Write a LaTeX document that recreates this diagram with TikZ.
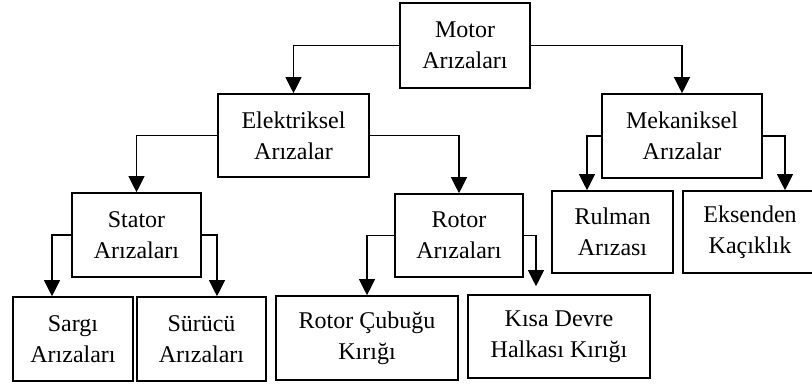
\documentclass[tikz,border=0pt]{standalone}
\usepackage{fontspec}
\setmainfont{Liberation Serif}
\usepackage{tikz}
\usetikzlibrary{arrows.meta, positioning, calc}

\begin{document}
\begin{tikzpicture}[x=1pt, y=1pt,
    box/.style={rectangle, draw, line width=1.6pt, align=center, inner sep=0pt, font=\fontsize{24}{31}\selectfont},
    arr/.style={-{Triangle[width=16pt, length=16pt]}, line width=1.1pt}]
    \useasboundingbox (0,0) rectangle (812,-386);
    % Nodes
    \node (motor) [box, minimum width=130pt, minimum height=85pt] at (465,-45.5) {Motor\\Arızaları};

    \node (elek) [box, minimum width=151pt, minimum height=83pt] at (293.5,-135.5) {Elektriksel\\Arızalar};
    \node (mek) [box, minimum width=160pt, minimum height=84pt] at (682,-136) {Mekaniksel\\Arızalar};

    \node (stator) [box, minimum width=129pt, minimum height=84pt] at (136.5,-235) {Stator\\Arızaları};
    \node (rotor) [box, minimum width=128pt, minimum height=83pt] at (459,-235.5) {Rotor\\Arızaları};
    \node (rulman) [box, minimum width=121pt, minimum height=82pt] at (612.5,-232) {Rulman\\Arızası};
    \node (eksen) [box, minimum width=134pt, minimum height=82pt] at (750,-232) {Eksenden\\Kaçıklık};

    \node (sargi) [box, minimum width=120pt, minimum height=84pt] at (73,-339) {Sargı\\Arızaları};
    \node (surucu) [box, minimum width=129pt, minimum height=84pt] at (201.5,-339) {Sürücü\\Arızaları};
    \node (cubuk) [box, minimum width=182pt, minimum height=84pt] at (367,-338) {Rotor Çubuğu\\Kırığı};
    \node (kisa) [box, minimum width=182pt, minimum height=83pt] at (559,-336.5) {Kısa Devre\\Halkası Kırığı};

    % Edges
    \draw[arr] (motor.west) -| (elek.north);
    \draw[arr] (motor.east) -| (mek.north);

    \draw[arr] (elek.west) -| (stator.north);
    \draw[arr] (elek.east) -| (rotor.north);

    \draw[arr] (stator.west) -| ([xshift=-21pt]sargi.north);
    \draw[arr] (stator.east) -| ([xshift=15.5pt]surucu.north);

    \draw[arr] (rotor.west) -| (cubuk.north);
    \draw[arr] (rotor.east) -| ([xshift=-23pt, yshift=8pt]kisa.north);

    \draw[arr] (mek.west) -| ([xshift=-25.5pt]rulman.north);
    \draw[arr] (mek.east) -| ([xshift=35pt]eksen.north);
\end{tikzpicture}
\end{document}
